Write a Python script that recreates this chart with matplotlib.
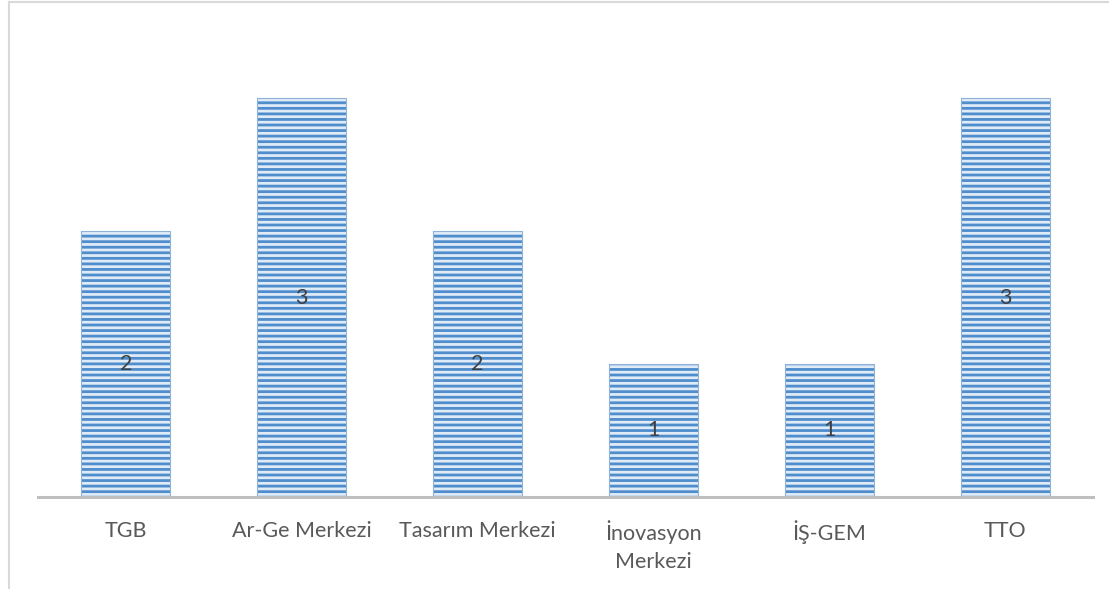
import matplotlib
matplotlib.use("Agg")
import matplotlib.pyplot as plt
from matplotlib.lines import Line2D

plt.rcParams['font.family'] = ['Lato', 'DejaVu Sans']
plt.rcParams['hatch.linewidth'] = 2.0

# veriler
categories = ['TGB', 'Ar-Ge Merkezi', 'Tasarım Merkezi', 'İnovasyon\nMerkezi', 'İŞ-GEM', 'TTO']
values = [2, 3, 2, 1, 1, 3]

fig = plt.figure(figsize=(11.09, 5.89), dpi=100)
ax = fig.add_axes([38/1109, 1 - 497/589, (1093 - 38)/1109, (497 - 31.5)/589])

x = range(len(categories))
bars = ax.bar(x, values, width=0.506, color='#dfebf7', edgecolor='#4f8dcc',
              hatch='---', linewidth=0)
# kenar
ax.bar(x, values, width=0.506, color='none', edgecolor='#8fb2d9', linewidth=0.8)

for b, v in zip(bars, values):
    ax.text(b.get_x() + b.get_width()/2, v/2, str(v), ha='center', va='center',
            fontsize=15.5, color='#404040')

ax.set_xlim(-0.5, len(categories) - 0.5)
ax.set_ylim(0, 3.5)
ax.set_xticks(list(x))
ax.set_xticklabels(categories, fontsize=15.5, color='#595959', linespacing=1.5, va='top')
ax.tick_params(axis='x', length=0, pad=17)
ax.set_yticks([])
for s in ['top', 'right', 'left']:
    ax.spines[s].set_visible(False)
ax.spines['bottom'].set_color('#bfbfbf')
ax.spines['bottom'].set_linewidth(2.2)

# çerçeve
fig.add_artist(Line2D([9/1109, 1], [1 - 2/589, 1 - 2/589], color='#d9d9d9', lw=1.5, transform=fig.transFigure))
fig.add_artist(Line2D([9/1109, 9/1109], [0, 1 - 2/589], color='#d9d9d9', lw=1.5, transform=fig.transFigure))

fig.savefig('out.png', dpi=100)
